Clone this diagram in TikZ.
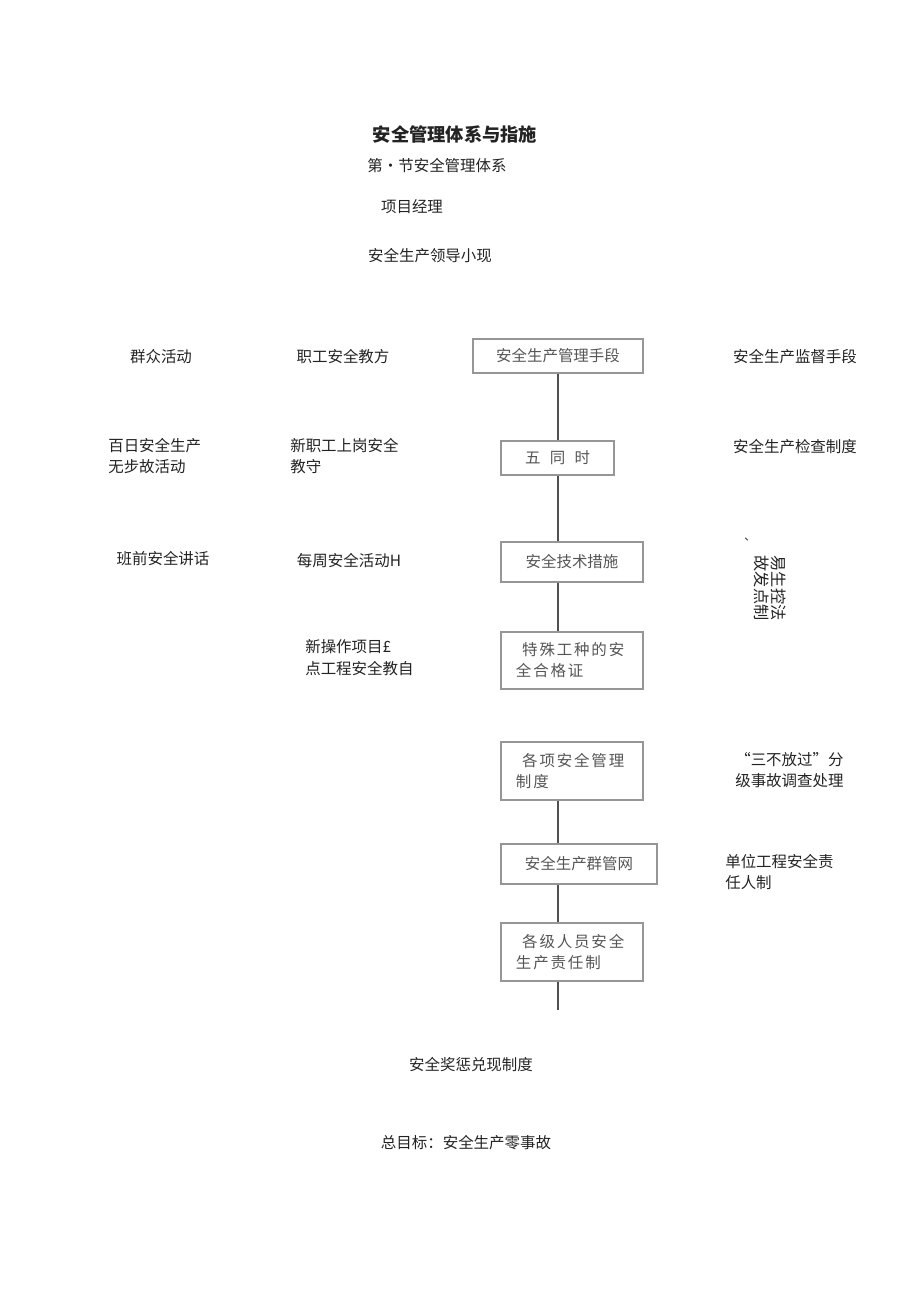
\documentclass[tikz,border=0pt]{standalone}
\usepackage{fontspec}
\setmainfont{Noto Sans CJK SC}
\newfontfamily\widecjk[LetterSpace=12]{Noto Sans CJK SC}
\usepackage{tikz}
\usetikzlibrary{positioning}
\definecolor{framegray}{RGB}{150,150,150}
\definecolor{boxtext}{RGB}{85,85,85}
\definecolor{spinegray}{RGB}{80,80,80}
\definecolor{labelink}{RGB}{35,35,35}

\begin{document}
\begin{tikzpicture}[x=0.025cm, y=-0.025cm,
        stage/.style={rectangle, draw=framegray, line width=0.9pt, text=boxtext, minimum height=0.85cm, inner xsep=0.375cm, font=\fontsize{11}{15.5}\selectfont},
        stagewide/.style={stage, align=left, text width=2.8cm, minimum height=1.45cm, font=\widecjk\fontsize{11}{15}\selectfont},
        note/.style={text=labelink, inner sep=0pt, font=\fontsize{11}{15.5}\selectfont},
        notel/.style={note, anchor=west, align=left},
        spine/.style={draw=spinegray, line width=1.6pt}
    ]
        \useasboundingbox (0,0) rectangle (920,1301);
        % headings
        \node[note, font=\bfseries\fontsize{13}{15}\selectfont] (title) at (455,135) {安全管理体系与指施};
        \node[note] (section) at (437,166) {第•节安全管理体系};
        \node[note] (manager) at (412,207) {项目经理};
        \node[note] (group) at (430,256) {安全生产领导小现};
        % central chain
        \node[stage, minimum width=4.25cm] (means) at (558,356) {安全生产管理手段};
        \node[stage, minimum width=2.825cm] (five) at (557.5,458) {五\hspace{0.6em}同\hspace{0.6em}时};
        \node[stage, minimum width=3.55cm, minimum height=1cm] (tech) at (572,562) {安全技术措施};
        \node[stagewide, minimum height=1.425cm] (cert) at (572,660.5) {\hspace{0.4em}特殊工种的安\\全合格证};
        \node[stagewide] (rules) at (572,771) {\hspace{0.4em}各项安全管理\\制度};
        \node[stage, minimum width=3.9cm, minimum height=1cm] (net) at (579,864) {安全生产群管网};
        \node[stagewide] (duty) at (572,952) {\hspace{0.4em}各级人员安全\\生产责任制};
        \coordinate (spineend) at (558,1010);
        \draw[spine] (means.south -| spineend) -- (five.north -| spineend);
        \draw[spine] (five.south -| spineend) -- (tech.north -| spineend);
        \draw[spine] (tech.south -| spineend) -- (cert.north -| spineend);
        \draw[spine] (rules.south -| spineend) -- (net.north -| spineend);
        \draw[spine] (net.south -| spineend) -- (duty.north -| spineend);
        \draw[spine] (duty.south -| spineend) -- (spineend);
        % left columns
        \node[note] (mass) at (161,357) {群众活动};
        \node[note] (staffedu) at (343,357) {职工安全教方};
        \node[notel] (hundred) at (108,456) {百日安全生产\\无步故活动};
        \node[notel] (newstaff) at (290,456) {新职工上岗安全\\教守};
        \node[note] (preshift) at (163,559) {班前安全讲话};
        \node[note] (weekly) at (349,561) {每周安全活动H};
        \node[notel] (newjob) at (305,658) {新操作项目£\\点工程安全教自};
        % right column
        \node[note] (supervise) at (795,357) {安全生产监督手段};
        \node[note] (inspect) at (795,447) {安全生产检查制度};
        \node[note, font=\fontsize{8}{8}\selectfont] (tick) at (750,540) {、};
        \node[note, rotate=-90, align=center, font=\fontsize{11.5}{10.5}\selectfont] (hazard) at (770,588) {易生控法\\故发点制};
        \node[notel] (threeno) at (735,770) {“三不放过”分\\级事故调查处理};
        \node[notel] (unitduty) at (725,872) {单位工程安全责\\任人制};
        % bottom
        \node[note] (reward) at (471,1065) {安全奖惩兑现制度};
        \node[note] (goal) at (466,1143) {总目标：安全生产零事故};
    \end{tikzpicture}
\end{document}
